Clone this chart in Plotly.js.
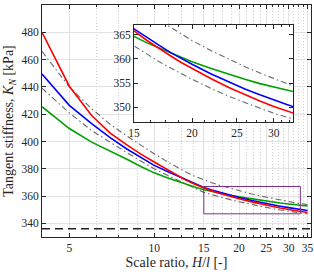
<!DOCTYPE html>
<html>
<head>
<meta charset="utf-8">
<script src="https://cdn.plot.ly/plotly-3.0.1.min.js"></script>
<style>html,body{margin:0;padding:0;background:#fff;}#chart{width:314px;height:274px;}</style>
</head>
<body>
<div id="chart"></div>
<script>
// Scale ratio H/l
const scaleRatio = [4, 5, 6, 7, 8, 9, 10, 11, 12, 13, 14, 15, 16, 17, 18, 19, 20, 22, 24, 26, 28, 30, 32, 35];
// Tangent stiffness K_N [kPa]
const redK   = [480, 440.5, 419, 406, 397.5, 390.5, 385, 380, 375.5, 371.5, 368.5, 365.8, 363.8, 362.1, 360.6, 359.2, 358.0, 355.9, 354.1, 352.6, 351.3, 350.2, 349.2, 348.0];
const blueK  = [449.5, 426.5, 413, 402.7, 394.5, 388, 382.5, 378.5, 375, 372, 369, 366.2, 364.4, 362.8, 361.3, 360.0, 358.9, 356.9, 355.2, 353.8, 352.6, 351.5, 350.6, 349.4];
const greenK = [425.5, 409.5, 399.5, 393, 387, 381.5, 377, 373.8, 371, 368.6, 366.5, 364.65, 363.3, 362.2, 361.2, 360.2, 359.4, 358.0, 356.8, 355.8, 354.9, 354.2, 353.5, 352.7];
const upperK = [466, 440, 424, 412.4, 404, 397, 391, 385.8, 381.3, 377.5, 374.3, 371.7, 369.8, 368.0, 366.5, 365.1, 363.8, 361.7, 359.9, 358.4, 357.1, 355.9, 354.9, 353.7];
const lowerK = [439, 421, 408, 399, 391.8, 385.5, 380, 375.8, 372, 368.5, 365.5, 362.7, 361.0, 359.4, 358.1, 356.9, 355.8, 353.9, 352.3, 351.0, 349.8, 348.8, 348.0, 346.9];
const limitK = 336;
const limitX = [4, 36];
// zoom window
const zoomX = [15, 33];
const zoomY = [347, 367];
// ticks
const mainXTicks = [5, 10, 15, 20, 25, 30, 35];
const mainXMinor = [6.25, 7.5, 8.75, 11.25, 12.5, 13.75, 16.25, 17.5, 18.75, 21.25, 22.5, 23.75, 26.25, 27.5, 28.75, 31.25, 32.5, 33.75];
const mainYTicks = [340, 360, 380, 400, 420, 440, 460, 480, 500];
const insetXTicks = [15, 20, 25, 30];
const insetXMinor = [16.25, 17.5, 18.75, 21.25, 22.5, 23.75, 26.25, 27.5, 28.75, 31.25, 32.5];
const insetYTicks = [350, 355, 360, 365];

const RED = '#ff0000', BLUE = '#0000ff', GREEN = '#00a000', GREY = '#6a6a6a', PURPLE = '#7E2F8E';
const traces = [];
function addSet(xa, ya) {
  traces.push({x: scaleRatio, y: upperK, xaxis: xa, yaxis: ya, mode: 'lines', line: {color: GREY, width: 1.1, dash: '6px,3px,1.5px,3px'}});
  traces.push({x: scaleRatio, y: lowerK, xaxis: xa, yaxis: ya, mode: 'lines', line: {color: GREY, width: 1.1, dash: '6px,3px,1.5px,3px'}});
  traces.push({x: scaleRatio, y: greenK, xaxis: xa, yaxis: ya, mode: 'lines', line: {color: GREEN, width: 1.6}});
  traces.push({x: scaleRatio, y: blueK, xaxis: xa, yaxis: ya, mode: 'lines', line: {color: BLUE, width: 1.6}});
  traces.push({x: scaleRatio, y: redK, xaxis: xa, yaxis: ya, mode: 'lines', line: {color: RED, width: 1.6}});
}
addSet('x', 'y');
traces.push({x: limitX, y: [limitK, limitK], xaxis: 'x', yaxis: 'y', mode: 'lines', line: {color: '#222', width: 1.6, dash: '8px,5px'}});
traces.push({x: [zoomX[0], zoomX[1], zoomX[1], zoomX[0], zoomX[0]], y: [zoomY[0], zoomY[0], zoomY[1], zoomY[1], zoomY[0]], xaxis: 'x', yaxis: 'y', mode: 'lines', line: {color: PURPLE, width: 1}});
addSet('x2', 'y2');

const FONT = 'Liberation Serif, DejaVu Serif, serif';
const axisCommon = {showline: true, linecolor: '#262626', linewidth: 1, mirror: 'allticks', ticks: 'inside', ticklen: 4, tickcolor: '#262626', zeroline: false, tickfont: {family: FONT, size: 11.5, color: '#262626'}};

const layout = {
  width: 314, height: 274,
  margin: {l: 42, r: 3, t: 5, b: 37},
  paper_bgcolor: '#fff', plot_bgcolor: '#fff',
  showlegend: false,
  font: {family: FONT, size: 11, color: '#262626'},
  xaxis: Object.assign({}, axisCommon, {
    type: 'log', range: [Math.log10(limitX[0]), Math.log10(limitX[1])],
    tickmode: 'array', tickvals: mainXTicks, ticktext: mainXTicks.map(String),
    showgrid: true, gridcolor: '#e2e2e2', gridwidth: 1,
    minor: {tickmode: 'array', tickvals: mainXMinor, ticks: 'inside', ticklen: 2, tickcolor: '#262626', showgrid: true, gridcolor: '#cfcfcf', griddash: '1px,2px', gridwidth: 1},
    title: {text: 'Scale ratio, <i>H</i>/<i>l</i> [-]', font: {family: FONT, size: 14, color: '#262626'}, standoff: 4},
    automargin: false
  }),
  yaxis: Object.assign({}, axisCommon, {
    range: [330, 500], tickmode: 'array', tickvals: mainYTicks,
    showgrid: true, gridcolor: '#e2e2e2', gridwidth: 1,
    title: {text: 'Tangent stiffness, <i>K</i><sub><i>N</i></sub> [kPa]', font: {family: FONT, size: 14, color: '#262626'}, standoff: 4},
    automargin: false
  }),
  xaxis2: Object.assign({}, axisCommon, {
    anchor: 'y2', domain: [0.342, 0.933],
    type: 'log', range: [Math.log10(zoomX[0]), Math.log10(zoomX[1])],
    tickmode: 'array', tickvals: insetXTicks, showgrid: false,
    minor: {tickmode: 'array', tickvals: insetXMinor, ticks: 'inside', ticklen: 2, tickcolor: '#262626', showgrid: false},
    automargin: false
  }),
  yaxis2: Object.assign({}, axisCommon, {
    anchor: 'x2', domain: [0.496, 0.914],
    range: [zoomY[0], zoomY[1]], tickmode: 'array', tickvals: insetYTicks, showgrid: false,
    automargin: false
  })
};

Plotly.newPlot('chart', traces, layout, {displayModeBar: false, staticPlot: true});
</script>
</body>
</html>
